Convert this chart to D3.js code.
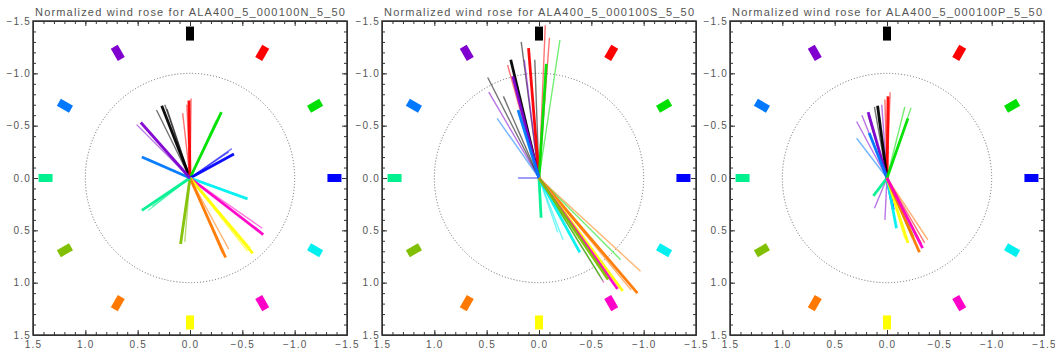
<!DOCTYPE html>
<html>
<head>
<meta charset="utf-8">
<script src="https://cdn.jsdelivr.net/npm/d3@7"></script>
<style>
  body { margin: 0; background: #fff; }
  svg text { font-family: "Liberation Sans", Arial, sans-serif; fill: #555; }
  .axis path, .axis line { stroke: #333; }
</style>
</head>
<body>
<svg id="chart" width="1055" height="354"></svg>
<script>
// titles of the three roses
const titles = [
  "Normalized wind rose for ALA400_5_000100N_5_50",
  "Normalized wind rose for ALA400_5_000100S_5_50",
  "Normalized wind rose for ALA400_5_000100P_5_50"
];

// direction markers, clockwise from the top (30 deg apart)
const markerAngles = [0, 30, 60, 90, 120, 150, 180, 210, 240, 270, 300, 330];
const markerColors = ["#000000", "#ff0000", "#00e000", "#0000ff", "#00f0f0", "#ff00c8",
                      "#ffff00", "#ff7800", "#80c000", "#00f090", "#0078ff", "#8000d0"];
const markerRadius = 1.38;

const majorTicks = [-1.5, -1.0, -0.5, 0.0, 0.5, 1.0, 1.5];
const minorTicks = d3.range(-15, 16).map(d => d / 10);

// lines: [colour index, x end, y end] in plot units
const linesN = [
  [0, 0.27, -0.69], [0, 0.32, -0.65], [0, 0.24, -0.70], [0, 0.22, -0.66],
  [1, 0.01, -0.74], [1, -0.01, -0.76], [1, 0.07, -0.62], [1, 0.03, -0.70],
  [2, -0.30, -0.63], [2, -0.29, -0.60], [2, -0.25, -0.55],
  [3, -0.42, -0.23], [3, -0.40, -0.28], [3, -0.37, -0.25],
  [4, -0.55, 0.20], [4, -0.50, 0.18],
  [5, -0.70, 0.54], [5, -0.69, 0.48], [5, -0.65, 0.50],
  [6, -0.60, 0.72], [6, -0.58, 0.67], [6, -0.55, 0.70],
  [7, -0.34, 0.76], [7, -0.37, 0.68], [7, -0.31, 0.72],
  [8, 0.09, 0.63], [8, 0.05, 0.61],
  [9, 0.46, 0.31], [9, 0.40, 0.31], [9, 0.36, 0.27],
  [10, 0.46, -0.20], [10, 0.40, -0.18],
  [11, 0.47, -0.53], [11, 0.51, -0.51], [11, 0.40, -0.45]
];
const linesS = [
  [0, 0.27, -1.13], [0, 0.17, -1.30], [0, 0.49, -0.96], [0, 0.04, -1.13], [0, 0.34, -0.78],
  [1, 0.10, -1.24], [1, -0.06, -1.46], [1, -0.10, -1.34], [1, 0.30, -1.08],
  [2, -0.07, -1.09], [2, -0.20, -1.32],
  [11, 0.25, -0.97], [11, 0.48, -0.82], [11, 0.14, -1.13], [11, 0.09, -1.11],
  [10, 0.20, -0.65], [10, 0.40, -0.57],
  [3, 0.20, 0.00],
  [9, -0.02, 0.38], [9, -0.01, 0.15],
  [4, -0.39, 0.71], [4, -0.23, 0.59], [4, -0.18, 0.52],
  [7, -0.94, 1.10], [7, -0.97, 0.89], [7, -0.88, 1.07],
  [6, -0.80, 1.08], [6, -0.70, 0.98],
  [5, -0.75, 1.06], [5, -0.62, 1.00],
  [8, -0.66, 0.97], [8, -0.58, 0.93],
  [2, -0.61, 0.98], [2, -0.78, 0.78]
];
const linesP = [
  [1, -0.01, -0.78], [1, -0.03, -0.82], [1, 0.02, -0.75],
  [0, 0.09, -0.69], [0, 0.12, -0.68], [0, 0.18, -0.60],
  [11, 0.18, -0.63], [11, 0.29, -0.54], [11, 0.24, -0.60], [11, 0.05, -0.70],
  [10, 0.17, -0.43], [10, 0.29, -0.38],
  [2, -0.20, -0.57], [2, -0.23, -0.67], [2, -0.17, -0.68],
  [9, 0.13, 0.17],
  [11, 0.12, 0.29], [11, 0.02, 0.40],
  [3, -0.06, 0.30],
  [4, -0.09, 0.48],
  [6, -0.20, 0.62], [6, -0.17, 0.58],
  [8, -0.25, 0.57],
  [7, -0.31, 0.71], [7, -0.39, 0.59],
  [5, -0.34, 0.67],
  [1, -0.33, 0.63], [1, -0.36, 0.62]
];
const panelLines = [linesN, linesS, linesP];

const svg = d3.select("#chart");
svg.append("rect").attr("width", 1055).attr("height", 354).attr("fill", "#fff");

const size = 314;
const panelLeft = [33, 382, 730];
const panelTop = 21;

const x = d3.scaleLinear().domain([1.5, -1.5]).range([0, size]);
const y = d3.scaleLinear().domain([-1.5, 1.5]).range([0, size]);
const fmt = d => d3.format(".1f")(d).replace("-", "\u2212");

panelLeft.forEach((left, p) => {
  const g = svg.append("g").attr("transform", `translate(${left},${panelTop})`);

  g.append("text")
    .attr("x", size / 2).attr("y", -5)
    .attr("text-anchor", "middle")
    .attr("font-size", 11)
    .attr("textLength", 310).attr("lengthAdjust", "spacing")
    .text(titles[p]);

  // dotted unit circle
  g.append("circle")
    .attr("cx", x(0)).attr("cy", y(0))
    .attr("r", x(0) - x(1))
    .attr("fill", "none")
    .attr("stroke", "#666")
    .attr("stroke-width", 1)
    .attr("stroke-dasharray", "1,2");

  // colour markers
  g.selectAll(".marker")
    .data(markerAngles)
    .enter().append("rect")
    .attr("class", "marker")
    .attr("x", -4).attr("y", -7)
    .attr("width", 8).attr("height", 14)
    .attr("fill", (d, i) => markerColors[i])
    .attr("transform", d => {
      const a = d * Math.PI / 180;
      const mx = x(-markerRadius * Math.sin(a));
      const my = y(-markerRadius * Math.cos(a));
      return `translate(${mx},${my}) rotate(${d})`;
    });

  // rose lines: first non-trivial line of each colour thick, the rest thinner and lighter
  const seen = {};
  const lines = panelLines[p].map(d => {
    const long = Math.hypot(d[1], d[2]) > 0.21;
    const first = long && !seen[d[0]];
    if (first) seen[d[0]] = true;
    return {c: d[0], x: d[1], y: d[2], first: first};
  });
  const drawOrder = lines.filter(d => !d.first).concat(lines.filter(d => d.first));
  g.selectAll(".ray")
    .data(drawOrder)
    .enter().append("line")
    .attr("class", "ray")
    .attr("x1", x(0)).attr("y1", y(0))
    .attr("x2", d => x(d.x)).attr("y2", d => y(d.y))
    .attr("stroke", d => markerColors[d.c])
    .attr("stroke-width", d => d.first ? 2.8 : 1.4)
    .attr("stroke-opacity", d => d.first ? 0.95 : 0.55);

  // axes on all four sides, ticks inward
  const sides = [
    {axis: d3.axisBottom(x), t: `translate(0,${size})`, labels: true, pad: 6},
    {axis: d3.axisTop(x), t: "translate(0,0)", labels: false, pad: 0},
    {axis: d3.axisLeft(y), t: "translate(0,0)", labels: true, pad: 2},
    {axis: d3.axisRight(y), t: `translate(${size},0)`, labels: false, pad: 0}
  ];
  sides.forEach(s => {
    g.append("g").attr("class", "axis").attr("transform", s.t)
      .call(s.axis.tickValues(minorTicks).tickSize(-3).tickFormat(""))
      .call(a => a.select(".domain").remove());
    const major = g.append("g").attr("class", "axis").attr("transform", s.t)
      .call(s.axis.tickValues(majorTicks).tickSizeInner(-5).tickSizeOuter(0)
        .tickPadding(s.pad)
        .tickFormat(s.labels ? fmt : ""));
    major.selectAll("text")
      .attr("font-size", 10)
      .attr("letter-spacing", 1.2)
      .style("fill", "#555");
  });

  g.append("rect")
    .attr("width", size).attr("height", size)
    .attr("fill", "none").attr("stroke", "#333").attr("stroke-width", 1.5);
});
</script>
</body>
</html>
